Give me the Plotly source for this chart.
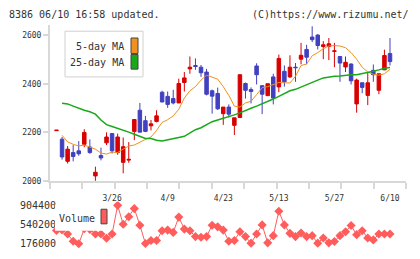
import plotly.graph_objects as go

W, H = 420, 259

# ---- data ----
day = list(range(61))
tick_days = [10, 20, 30, 40, 50, 60]
tick_labels = ["3/26", "4/9", "4/23", "5/13", "5/27", "6/10"]

opens = [2207, 2172, 2081, 2117, 2124, 2151, 2140, 2021, 2105, 2157,
         2195, 2117, 2077, 2086, 2204, 2291, 2248, 2227, 2245, 2365,
         2348, 2339, 2321, 2405, 2461, 2475, 2468, 2448, 2371, 2360,
         2277, 2304, 2229, 2261, 2401, 2376, 2473, 2392, 2351, 2428,
         2387, 2451, 2428, 2468, 2501, 2541, 2592, 2600, 2553, 2553,
         2533, 2512, 2469, 2481, 2317, 2404, 2352, 2455, 2373, 2457,
         2524]
highs = [2209, 2181, 2144, 2148, 2164, 2213, 2171, 2059, 2137, 2200,
         2197, 2195, 2179, 2160, 2253, 2321, 2268, 2251, 2291, 2371,
         2368, 2375, 2421, 2448, 2512, 2504, 2477, 2461, 2376, 2384,
         2304, 2315, 2260, 2437, 2405, 2385, 2484, 2392, 2400, 2441,
         2520, 2475, 2517, 2485, 2568, 2560, 2636, 2604, 2575, 2588,
         2568, 2512, 2512, 2484, 2421, 2404, 2444, 2479, 2441, 2540,
         2588]
lows = [2207, 2088, 2072, 2081, 2104, 2139, 2112, 2001, 2085, 2148,
        2113, 2108, 2032, 2075, 2168, 2201, 2201, 2208, 2241, 2324,
        2301, 2315, 2321, 2368, 2441, 2457, 2428, 2352, 2277, 2292,
        2231, 2261, 2189, 2261, 2339, 2319, 2397, 2275, 2351, 2315,
        2365, 2388, 2424, 2408, 2480, 2480, 2571, 2541, 2501, 2497,
        2468, 2408, 2448, 2397, 2281, 2361, 2312, 2408, 2357, 2457,
        2475]
closes = [2209, 2099, 2131, 2101, 2112, 2200, 2117, 2036, 2095, 2181,
          2124, 2181, 2141, 2089, 2253, 2201, 2204, 2235, 2268, 2325,
          2315, 2321, 2401, 2424, 2468, 2471, 2445, 2357, 2349, 2297,
          2304, 2275, 2260, 2437, 2373, 2368, 2437, 2357, 2400, 2341,
          2504, 2408, 2468, 2466, 2517, 2509, 2581, 2557, 2560, 2564,
          2535, 2485, 2488, 2412, 2415, 2385, 2404, 2437, 2441, 2516,
          2491]
ma5 = [None, 2188, 2161, 2151, 2144, 2148, 2141, 2131, 2115, 2111,
       2119, 2117, 2131, 2144, 2148, 2161, 2171, 2181, 2208, 2241,
       2252, 2268, 2295, 2341, 2371, 2388, 2415, 2435, 2428, 2419,
       2388, 2352, 2308, 2304, 2321, 2328, 2355, 2384, 2388, 2395,
       2405, 2404, 2403, 2431, 2475, 2481, 2515, 2528, 2544, 2555,
       2557, 2555, 2548, 2528, 2501, 2468, 2448, 2439, 2435, 2441,
       2459]
ma25 = [None, 2320, 2317, 2308, 2299, 2291, 2285, 2275, 2251, 2232,
        2224, 2217, 2211, 2201, 2192, 2184, 2175, 2175, 2168, 2165,
        2169, 2172, 2179, 2184, 2197, 2211, 2219, 2232, 2244, 2251,
        2257, 2265, 2272, 2280, 2291, 2299, 2308, 2317, 2325, 2337,
        2348, 2361, 2371, 2377, 2387, 2397, 2408, 2415, 2424, 2428,
        2431, 2432, 2435, 2437, 2437, 2441, 2445, 2451, 2457, 2464,
        2467]
volume = [430000, 440000, 361000, 225000, 176000, 460000, 450000, 361000, 361000, 281000,
          361000, 904400, 546000, 688000, 843000, 528000, 180000, 238000, 238000, 423000,
          435000, 392000, 682000, 454000, 423000, 312000, 299000, 312000, 528000, 497000,
          435000, 225000, 238000, 404000, 312000, 188000, 361000, 534000, 194000, 330000,
          793000, 534000, 374000, 312000, 380000, 312000, 330000, 188000, 287000, 194000,
          219000, 330000, 404000, 522000, 349000, 423000, 287000, 250000, 361000, 361000,
          361000]
price_ticks = [2000, 2200, 2400, 2600]
vol_ticks = [176000, 540200, 904400]
vol_tick_text = ["176000", "540200", "904400"]

# ---- styling ----
FONT = "DejaVu Sans Mono"
UP = "#d80000"
DOWN = "#4040c0"
ORANGE = "#f0901e"
GREEN = "#18a818"
VOLC = "#ff5c5c"
AXC = "#d8d8d8"

def py(y):
    return (H - y) / H

def px(x):
    return x / W

xr = [-1.17, 62.88]
step = (xr[1] - xr[0]) / 11
grid_ticks = [xr[0] + 0.001 + k * step for k in range(11)] + [xr[1] - 0.001]

fig = go.Figure()
fig.add_trace(go.Candlestick(
    x=day, open=opens, high=highs, low=lows, close=closes,
    increasing=dict(line=dict(color=UP, width=1), fillcolor=UP),
    decreasing=dict(line=dict(color=DOWN, width=1), fillcolor=DOWN),
    whiskerwidth=0, xaxis="x", yaxis="y", hoverinfo="skip", showlegend=False))
fig.add_trace(go.Scatter(x=day, y=ma5, mode="lines", line=dict(color=ORANGE, width=1),
                         xaxis="x", yaxis="y", showlegend=False, hoverinfo="skip"))
fig.add_trace(go.Scatter(x=day, y=ma25, mode="lines", line=dict(color=GREEN, width=1.5),
                         xaxis="x", yaxis="y", showlegend=False, hoverinfo="skip"))
fig.add_trace(go.Scatter(x=[day[0]], y=[price_ticks[0]], mode="markers", marker=dict(opacity=0),
                         xaxis="x2", yaxis="y", showlegend=False, hoverinfo="skip"))
fig.add_trace(go.Scatter(x=day, y=volume, mode="lines+markers",
                         line=dict(color=VOLC, width=1),
                         marker=dict(symbol="diamond", size=7, color=VOLC),
                         xaxis="x3", yaxis="y2", showlegend=False, hoverinfo="skip"))

dom_x = [px(50), px(406)]
shapes = [
    dict(type="rect", xref="paper", yref="paper", x0=px(65), x1=px(143), y0=py(77), y1=py(30),
         fillcolor="white", line=dict(color="#d0d0d0", width=1), layer="above"),
    dict(type="rect", xref="paper", yref="paper", x0=px(131), x1=px(138), y0=py(53), y1=py(37),
         fillcolor=ORANGE, line=dict(color="#444", width=1), layer="above"),
    dict(type="rect", xref="paper", yref="paper", x0=px(131), x1=px(138), y0=py(69), y1=py(54),
         fillcolor=GREEN, line=dict(color="#444", width=1), layer="above"),
    dict(type="rect", xref="paper", yref="paper", x0=px(55), x1=px(110), y0=py(235), y1=py(208),
         fillcolor="white", line=dict(width=0), layer="above"),
    dict(type="rect", xref="paper", yref="paper", x0=px(101), x1=px(107), y0=py(228), y1=py(213),
         fillcolor=VOLC, line=dict(color="#444", width=1), layer="above"),
]
annotations = [
    dict(text="8386 06/10 16:58 updated.", x=px(7), y=py(13), xref="paper", yref="paper",
         xanchor="left", yanchor="middle", showarrow=False, font=dict(family=FONT, size=10, color="#333")),
    dict(text="(C)https://www.rizumu.net/", x=px(411), y=py(13), xref="paper", yref="paper",
         xanchor="right", yanchor="middle", showarrow=False, font=dict(family=FONT, size=10, color="#333")),
    dict(text="5-day MA", x=px(126), y=py(46), xref="paper", yref="paper",
         xanchor="right", yanchor="middle", showarrow=False, font=dict(family=FONT, size=10, color="#333")),
    dict(text="25-day MA", x=px(126), y=py(62), xref="paper", yref="paper",
         xanchor="right", yanchor="middle", showarrow=False, font=dict(family=FONT, size=10, color="#333")),
    dict(text="Volume", x=px(57), y=py(222), xref="paper", yref="paper",
         xanchor="left", yanchor="middle", showarrow=False, font=dict(family=FONT, size=10, color="#333")),
]

fig.update_layout(
    width=W, height=H, autosize=False,
    margin=dict(l=0, r=0, t=0, b=0, pad=0),
    paper_bgcolor="white", plot_bgcolor="white",
    showlegend=False,
    xaxis=dict(domain=dom_x, range=xr, anchor="y", showgrid=False, zeroline=False,
               showline=True, linecolor=AXC, linewidth=2,
               ticks="outside", ticklen=6, tickwidth=2, tickcolor=AXC,
               tickmode="array", tickvals=grid_ticks, showticklabels=False,
               rangeslider=dict(visible=False), fixedrange=True),
    xaxis2=dict(overlaying="x", anchor="y", side="bottom", range=xr, showgrid=False, zeroline=False,
                showline=False, ticks="outside", ticklen=9, tickcolor="rgba(0,0,0,0)",
                tickmode="array", tickvals=tick_days, ticktext=tick_labels,
                tickfont=dict(family=FONT, size=8, color="#333"), fixedrange=True),
    yaxis=dict(domain=[py(184), py(24)], range=[2000, 2640], anchor="x", showgrid=False, zeroline=False,
               showline=True, linecolor=AXC, linewidth=2,
               ticks="outside", ticklen=5, tickwidth=2, tickcolor=AXC,
               tickmode="array", tickvals=price_ticks,
               tickfont=dict(family=FONT, size=8, color="#333"), fixedrange=True),
    xaxis3=dict(domain=dom_x, range=xr, anchor="y2", visible=False, fixedrange=True),
    yaxis2=dict(domain=[py(256), py(205)], range=[37700, 978160], anchor="free", position=px(56),
                showgrid=False, zeroline=False, showline=False, ticks="",
                tickmode="array", tickvals=vol_ticks, ticktext=vol_tick_text,
                tickfont=dict(family=FONT, size=10, color="#333"), fixedrange=True),
    boxgap=0.1,
    shapes=shapes, annotations=annotations,
)

fig.write_html("out.html")
